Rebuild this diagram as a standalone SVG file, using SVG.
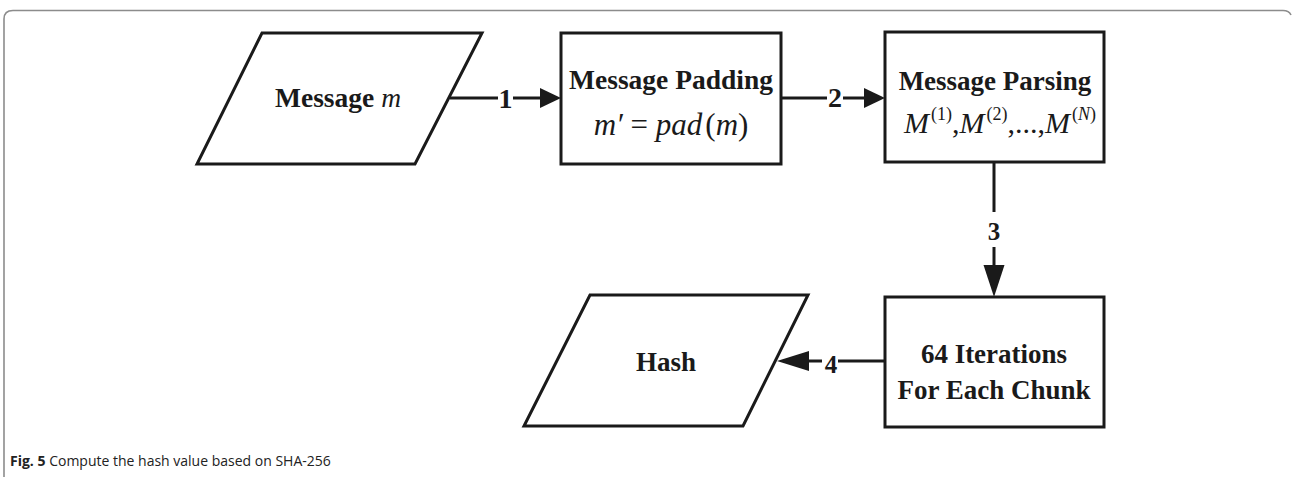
<svg xmlns="http://www.w3.org/2000/svg" width="1292" height="477" viewBox="0 0 1292 477">
  <style>
    .shape { fill: #ffffff; stroke: #1a1a1a; stroke-width: 3; stroke-linejoin: miter; }
    .wire { fill: none; stroke: #1a1a1a; stroke-width: 3; }
    .head { fill: #1a1a1a; stroke: none; }
    .lbl { font-family: "Liberation Serif", "Times New Roman", serif; font-weight: bold; fill: #1a1a1a; }
    .math { font-family: "Liberation Serif", "Times New Roman", serif; font-style: italic; fill: #1a1a1a; }
    .up { font-style: normal; }
    .caption { font-family: "Open Sans", "Noto Sans", sans-serif; font-size: 14px; fill: #222; }
  </style>

  <rect width="1292" height="477" fill="#ffffff"/>
  <!-- figure frame -->
  <path d="M4,477 V19 Q4,10.5 13,10.5 H1283 Q1289,10.5 1291,15" fill="none" stroke="#8c8c8c" stroke-width="1.6"/>

  <g id="node-message">
    <polygon class="shape" points="262,33 482,33 415,164 197,164"/>
    <text x="338" y="107" text-anchor="middle" font-size="27.5"><tspan class="lbl">Message</tspan><tspan class="math" font-weight="normal"> m</tspan></text>
  </g>

  <g id="node-padding">
    <rect class="shape" x="561" y="33" width="220" height="131"/>
    <text class="lbl" x="671" y="89" text-anchor="middle" font-size="27.5">Message Padding</text>
    <text class="math" x="671" y="135" text-anchor="middle" font-size="31">m′ <tspan class="up">=</tspan> pad<tspan class="up" dx="3">(</tspan>m<tspan class="up">)</tspan></text>
  </g>

  <g id="node-parsing">
    <rect class="shape" x="885" y="32" width="219" height="130"/>
    <text class="lbl" x="995" y="90" text-anchor="middle" font-size="27">Message Parsing</text>
    <text class="math" x="1000" y="133" text-anchor="middle" font-size="30">M<tspan class="up" font-size="18" dy="-13" dx="2">(1)</tspan><tspan class="up" dy="13">,</tspan>M<tspan class="up" font-size="18" dy="-13" dx="2">(2)</tspan><tspan class="up" dy="13">,...,</tspan>M<tspan font-size="18" dy="-13" dx="2"><tspan class="up">(</tspan>N<tspan class="up">)</tspan></tspan></text>
  </g>

  <g id="node-iterations">
    <rect class="shape" x="885" y="297" width="219" height="130"/>
    <text class="lbl" x="994" y="363" text-anchor="middle" font-size="27">64 Iterations</text>
    <text class="lbl" x="994" y="399" text-anchor="middle" font-size="27">For Each Chunk</text>
  </g>

  <g id="node-hash">
    <polygon class="shape" points="590,295 808,295 743,426 524,426"/>
    <text class="lbl" x="666" y="371" text-anchor="middle" font-size="27">Hash</text>
  </g>

  <g id="connectors">
    <!-- 1: message to padding -->
    <path class="wire" d="M450,98 H498 M513,98 H542"/>
    <polygon class="head" points="540,88 561,98 540,108"/>
    <text class="lbl" x="505.5" y="108" text-anchor="middle" font-size="28">1</text>
    <!-- 2: padding to parsing -->
    <path class="wire" d="M781,98 H827 M843,98 H866"/>
    <polygon class="head" points="864,88 885,98 864,108"/>
    <text class="lbl" x="835" y="107" text-anchor="middle" font-size="28">2</text>
    <!-- 3: parsing to iterations -->
    <path class="wire" d="M994,162 V212 M994,247 V266"/>
    <polygon class="head" points="983.5,265 1004.5,265 994,297"/>
    <text class="lbl" x="994" y="240" text-anchor="middle" font-size="25">3</text>
    <!-- 4: iterations to hash -->
    <path class="wire" d="M885,361 H838 M822,361 H807"/>
    <polygon class="head" points="809,351 809,371 777,361"/>
    <text class="lbl" x="831" y="373" text-anchor="middle" font-size="25">4</text>
  </g>

  <text class="caption" x="10" y="466"><tspan font-weight="bold">Fig. 5</tspan> Compute the hash value based on SHA-256</text>
</svg>
